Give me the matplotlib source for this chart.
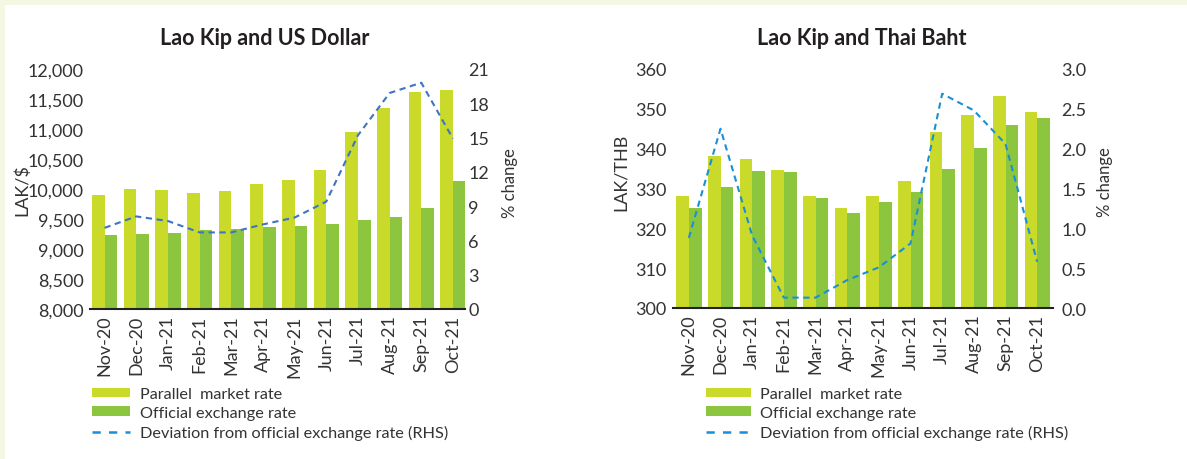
import matplotlib.pyplot as plt
from matplotlib.patches import Patch, Rectangle
from matplotlib.lines import Line2D

plt.rcParams['font.family'] = ['Lato', 'DejaVu Sans']

months = ["Nov-20", "Dec-20", "Jan-21", "Feb-21", "Mar-21", "Apr-21",
          "May-21", "Jun-21", "Jul-21", "Aug-21", "Sep-21", "Oct-21"]

# LAK per US dollar
usd_parallel = [9900, 10000, 9990, 9940, 9970, 10080, 10145, 10320, 10950, 11350, 11610, 11650]
usd_official = [9235, 9250, 9270, 9310, 9340, 9360, 9390, 9410, 9480, 9540, 9690, 10130]
usd_deviation = [7.1, 8.1, 7.7, 6.7, 6.7, 7.4, 8.0, 9.4, 15.2, 18.9, 19.8, 14.9]

# LAK per Thai baht
thb_parallel = [328.2, 338.2, 337.3, 334.7, 328.2, 325.1, 328.2, 331.8, 344.2, 348.5, 353.3, 349.2]
thb_official = [325.1, 330.4, 334.4, 334.2, 327.6, 323.9, 326.5, 329.1, 335.0, 340.2, 345.9, 347.6]
thb_deviation = [0.88, 2.25, 0.91, 0.13, 0.13, 0.35, 0.51, 0.81, 2.69, 2.48, 2.06, 0.58]

PARALLEL = "#c9da2a"
OFFICIAL = "#8cc63f"
TEXT = "#333333"
W = 1187
H = 460

fig = plt.figure(figsize=(W / 100, H / 100), dpi=100)
fig.patch.set_facecolor("#f4f8e2")
fig.patches.append(Rectangle((5 / W, 0), 1, 1 - 6 / H, transform=fig.transFigure,
                             facecolor="white", edgecolor="none", zorder=-10))


def draw_panel(rect, title, title_x, parallel, official, deviation,
               ylim, yticks, yfmt, rlim, rticks, rfmt, ylabel, ylab_pos,
               rlab_pos, rpad, line_color, xlim, legend_x, handle_len):
    ax = fig.add_axes(rect)
    ax.set_facecolor("none")
    x = list(range(len(months)))
    ax.bar([i - 0.2 for i in x], parallel, width=0.4, color=PARALLEL,
           bottom=0, zorder=2)
    ax.bar([i + 0.2 for i in x], official, width=0.4, color=OFFICIAL,
           bottom=0, zorder=2)
    ax.set_ylim(*ylim)
    ax.set_xlim(*xlim)
    ax.set_yticks(yticks)
    ax.set_yticklabels([yfmt.format(v) for v in yticks])
    ax.set_xticks(x)
    ax.set_xticklabels(months, rotation=90)
    for s in ["top", "left", "right"]:
        ax.spines[s].set_visible(False)
    ax.spines["bottom"].set_color("#222222")
    ax.spines["bottom"].set_linewidth(1.5)
    ax.spines["bottom"].set_zorder(5)
    ax.tick_params(axis="both", length=0, labelsize=13, colors=TEXT)
    ax.tick_params(axis="y", pad=4.5)
    ax.tick_params(axis="x", pad=4)
    ax.set_ylabel(ylabel, fontsize=13, color=TEXT)
    ax.yaxis.set_label_coords(*ylab_pos)

    ax2 = ax.twinx()
    ax2.plot(x, deviation, color=line_color, lw=1.5, linestyle=(0, (3, 2.2)),
             zorder=3)
    ax2.set_ylim(*rlim)
    ax2.set_yticks(rticks)
    ax2.set_yticklabels([rfmt.format(v) for v in rticks])
    for s in ["top", "left", "right", "bottom"]:
        ax2.spines[s].set_visible(False)
    ax2.tick_params(axis="y", length=0, labelsize=13, colors=TEXT, pad=rpad)
    ax2.set_ylabel("% change", fontsize=12, color=TEXT)
    ax2.yaxis.set_label_coords(*rlab_pos)

    fig.text(title_x / W, 1 - 45 / H, title, ha="center", va="baseline",
             fontsize=15.5, fontweight="bold", color="#231f20")

    handles = [Patch(facecolor=PARALLEL, edgecolor="none"),
               Patch(facecolor=OFFICIAL, edgecolor="none"),
               Line2D([], [], color="#1a8fd6", lw=1.8, linestyle=(0, (3.3, 3.3)))]
    labels = ["Parallel  market rate", "Official exchange rate",
              "Deviation from official exchange rate (RHS)"]
    leg = fig.legend(handles, labels, loc="upper left",
                     bbox_to_anchor=(legend_x / W, 1 - 388 / H),
                     bbox_transform=fig.transFigure, frameon=False,
                     fontsize=11.7, handlelength=handle_len, handleheight=0.5,
                     handletextpad=0.6, labelspacing=0.3, borderpad=0,
                     borderaxespad=0)
    for t in leg.get_texts():
        t.set_color(TEXT)
    return ax


draw_panel([90 / W, 1 - 310 / H, 375 / W, 240 / H], "Lao Kip and US Dollar", 265,
           usd_parallel, usd_official, usd_deviation,
           (8000, 12000), list(range(8000, 12001, 500)), "{:,}",
           (0, 21), list(range(0, 22, 3)), "{}",
           "LAK/$", (-0.16, 0.5), (1.10, 0.53), 2.5, "#3d74c6", (-0.46, 11.38),
           92, 2.35)

draw_panel([673 / W, 1 - 309 / H, 380 / W, 239 / H], "Lao Kip and Thai Baht", 862,
           thb_parallel, thb_official, thb_deviation,
           (300, 360), list(range(300, 361, 10)), "{}",
           (0, 3), [0, 0.5, 1, 1.5, 2, 2.5, 3], "{:.1f}",
           "LAK/THB", (-0.115, 0.57), (1.117, 0.53), 6, "#1a8fd6", (-0.5, 11.5),
           706, 2.75)

fig.savefig("out.png", dpi=100, facecolor=fig.get_facecolor())
